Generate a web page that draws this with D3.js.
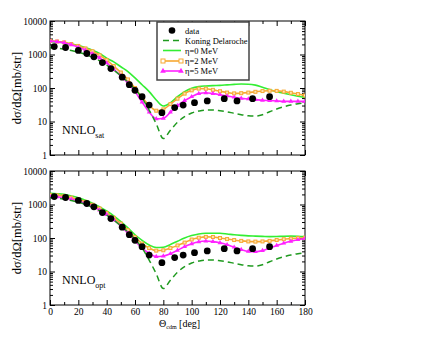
<!DOCTYPE html>
<html>
<head>
<meta charset="utf-8">
<script src="https://cdn.jsdelivr.net/npm/d3@7"></script>
<style>
  body { margin: 0; background: #fff; }
  svg text { font-family: "Liberation Serif", "DejaVu Serif", serif; }
</style>
</head>
<body>
<svg id="chart" width="440" height="340"></svg>
<script>
// angles where the calculations are given (deg)
var theta = [0,5,10,15,20,25,30,35,40,45,50,55,60,65,70,75,80,85,90,95,100,105,110,115,120,125,130,135,140,145,150,155,160,165,170,175,180];

// Koning Delaroche (same in both panels)
var koning = [1600,1560,1450,1320,1180,1000,820,650,480,340,230,150,92,50,22,8.5,3.1,5.5,9.5,14,18,20.5,22,22,21,19.5,17.5,16,14.8,14.5,16,19.5,23.5,27.5,31,34,36];

// NNLO_sat
var satEta0 = [2400,2350,2250,2050,1850,1600,1350,1080,780,600,430,310,200,125,78,44,29,36,55,78,98,110,115,118,120,124,128,131,130,122,105,90,78,70,63,57,52];
var satEta2 = [2550,2450,2300,2050,1800,1520,1250,950,680,450,290,180,100,52,31,21,23,33,48,68,85,96,95,88,80,73,69,70,73,77,81,83,82,78,72,66,60];
var satEta5 = [2500,2400,2250,1950,1650,1350,1050,790,560,360,230,140,78,38,19,12,12.5,19,30,42,55,68,72,68,63,58,53,49,47,45,43,42,41,40,40,40,40];

// NNLO_opt
var optEta0 = [2150,2100,2000,1800,1600,1350,1100,850,640,460,310,200,125,85,62,52,53,64,80,100,118,132,138,139,138,132,125,120,116,114,112,110,111,113,114,113,110];
var optEta2 = [1900,1870,1780,1600,1420,1200,980,760,560,400,270,170,105,68,50,42,43,50,60,73,90,102,108,107,100,93,87,82,79,78,79,82,87,92,96,100,102];
var optEta5 = [1700,1680,1600,1440,1280,1080,880,680,500,350,230,140,82,50,35,28,29,34,43,55,67,77,81,78,72,63,53,45,40,39,42,50,60,70,80,89,97];

// measured data
var dataTheta = [3,11,20,26,31,37,43,51,56,60,65,70,79,88,94,102,111,123,132,143,155];
var dataValue = [1730,1620,1320,1070,850,575,380,210,126,85,55,31,18.3,26,31,36.5,41,48,41,48,55];

var xTicks = [0,20,40,60,80,100,120,140,160,180];
var yTicks = [1,10,100,1000,10000];
var legendNames = ["data", "Koning Delaroche", "\u03b7=0 MeV", "\u03b7=2 MeV", "\u03b7=5 MeV"];

var colKD = "#1f9a1f", colE0 = "#33ee33", colE2 = "#f7a832", colE5 = "#ff22ff";

var svg = d3.select("#chart");
var left = 50, right = 305;

var x = d3.scaleLinear().domain([0, 180]).range([left, right]);

function panel(top, bottom, e0, e2, e5, name, sub, showX) {
    var y = d3.scaleLog().domain([1, 10000]).range([bottom, top]);
    var g = svg.append("g");

    // axes, ticks pointing inward
    g.append("g").attr("transform", "translate(0," + bottom + ")")
        .call(d3.axisBottom(x).tickValues(d3.range(10, 180, 20)).tickSize(-3).tickFormat(""));
    g.append("g").attr("transform", "translate(0," + bottom + ")")
        .call(d3.axisBottom(x).tickValues(xTicks).tickSize(-5).tickPadding(3)
            .tickFormat(showX ? d3.format("d") : ""));
    g.append("g").attr("transform", "translate(0," + top + ")")
        .call(d3.axisTop(x).tickValues(d3.range(10, 180, 20)).tickSize(-3).tickFormat(""));
    g.append("g").attr("transform", "translate(0," + top + ")")
        .call(d3.axisTop(x).tickValues(xTicks).tickSize(-5).tickFormat(""));

    var minorY = y.ticks().filter(function(v) { return yTicks.indexOf(v) < 0; });
    g.append("g").attr("transform", "translate(" + left + ",0)")
        .call(d3.axisLeft(y).tickValues(minorY).tickSize(-3).tickFormat(""));
    g.append("g").attr("transform", "translate(" + left + ",0)")
        .call(d3.axisLeft(y).tickValues(yTicks).tickSize(-5).tickPadding(3).tickFormat(d3.format("d")));
    g.append("g").attr("transform", "translate(" + right + ",0)")
        .call(d3.axisRight(y).tickValues(minorY).tickSize(-3).tickFormat(""));
    g.append("g").attr("transform", "translate(" + right + ",0)")
        .call(d3.axisRight(y).tickValues(yTicks).tickSize(-5).tickFormat(""));

    g.selectAll(".domain").remove();
    g.selectAll(".tick line").attr("stroke", "#000").attr("stroke-width", 1);
    g.selectAll(".tick text").attr("fill", "#000")
        .style("font-family", "Liberation Serif").style("font-size", "9.5px");

    g.append("rect").attr("x", left).attr("y", top)
        .attr("width", right - left).attr("height", bottom - top)
        .attr("fill", "none").attr("stroke", "#000").attr("stroke-width", 1);

    var clip = "clip" + top;
    g.append("clipPath").attr("id", clip).append("rect")
        .attr("x", left).attr("y", top).attr("width", right - left).attr("height", bottom - top);
    var plot = g.append("g").attr("clip-path", "url(#" + clip + ")");

    var line = function(vals) {
        return d3.line().curve(d3.curveMonotoneX)
            .x(function(d, i) { return x(theta[i]); })
            .y(function(d) { return y(d); })(vals);
    };

    plot.append("path").attr("d", line(e0)).attr("fill", "none")
        .attr("stroke", colE0).attr("stroke-width", 1.6);
    plot.append("path").attr("d", line(e2)).attr("fill", "none")
        .attr("stroke", colE2).attr("stroke-width", 1.6);
    plot.selectAll(".sq").data(e2).enter().append("rect")
        .attr("x", function(d, i) { return x(theta[i]) - 1.5; })
        .attr("y", function(d) { return y(d) - 1.5; })
        .attr("width", 3).attr("height", 3)
        .attr("fill", "#fde3b5").attr("stroke", colE2).attr("stroke-width", 1);
    plot.append("path").attr("d", line(e5)).attr("fill", "none")
        .attr("stroke", colE5).attr("stroke-width", 1.6);
    plot.selectAll(".tri").data(e5).enter().append("path")
        .attr("d", d3.symbol().type(d3.symbolTriangle).size(10))
        .attr("transform", function(d, i) { return "translate(" + x(theta[i]) + "," + y(d) + ")"; })
        .attr("fill", colE5);
    plot.append("path").attr("d", line(koning)).attr("fill", "none")
        .attr("stroke", colKD).attr("stroke-width", 1.5).attr("stroke-dasharray", "6,4");

    plot.selectAll(".dot").data(dataValue).enter().append("circle")
        .attr("cx", function(d, i) { return x(dataTheta[i]); })
        .attr("cy", function(d) { return y(d); })
        .attr("r", 3.4).attr("fill", "#000");

    // panel label
    var t = g.append("text").attr("x", left + 12).attr("y", bottom - 21)
        .style("font-size", "12px").attr("fill", "#000");
    t.append("tspan").text(name);
    t.append("tspan").attr("dy", 4).style("font-size", "8px").text(sub);

    // y axis title
    g.append("text")
        .attr("transform", "translate(21," + ((top + bottom) / 2) + ") rotate(-90)")
        .attr("text-anchor", "middle").style("font-size", "12.5px").attr("fill", "#000")
        .text("d\u03c3/d\u03a9[mb/str]");
    return y;
}

panel(21, 155, satEta0, satEta2, satEta5, "NNLO", "sat", false);
panel(171, 305, optEta0, optEta2, optEta5, "NNLO", "opt", true);

// x axis title
var xt = svg.append("text").attr("x", 159).attr("y", 327).style("font-size", "10px").attr("fill", "#000");
xt.append("tspan").text("\u0398");
xt.append("tspan").attr("dy", 2).style("font-size", "6px").text("cdm");
xt.append("tspan").attr("dy", -2).text(" [deg]");

// legend
var lg = svg.append("g");
lg.append("rect").attr("x", 157).attr("y", 22).attr("width", 92).attr("height", 58)
    .attr("fill", "#fff").attr("stroke", "#444").attr("stroke-width", 1.5);
var rows = [30.5, 40.5, 50.5, 61, 71];
legendNames.forEach(function(n, i) {
    var yy = rows[i];
    if (i === 0) {
        lg.append("circle").attr("cx", 172).attr("cy", yy).attr("r", 3.3).attr("fill", "#000");
    } else {
        var c = [null, colKD, colE0, colE2, colE5][i];
        var l = lg.append("line").attr("x1", 163).attr("x2", 181).attr("y1", yy).attr("y2", yy)
            .attr("stroke", c).attr("stroke-width", 1.6);
        if (i === 1) l.attr("stroke-dasharray", "6,4");
        if (i === 3) {
            [163, 181].forEach(function(px) {
                lg.append("rect").attr("x", px - 2).attr("y", yy - 2).attr("width", 4).attr("height", 4)
                    .attr("fill", "#fff").attr("stroke", colE2);
            });
        }
        if (i === 4) {
            [163, 181].forEach(function(px) {
                lg.append("path").attr("d", d3.symbol().type(d3.symbolTriangle).size(14))
                    .attr("transform", "translate(" + px + "," + yy + ")").attr("fill", colE5);
            });
        }
    }
    lg.append("text").attr("x", 185).attr("y", yy + 3).style("font-size", "8.5px")
        .attr("fill", "#000").text(n);
});
</script>
</body>
</html>
